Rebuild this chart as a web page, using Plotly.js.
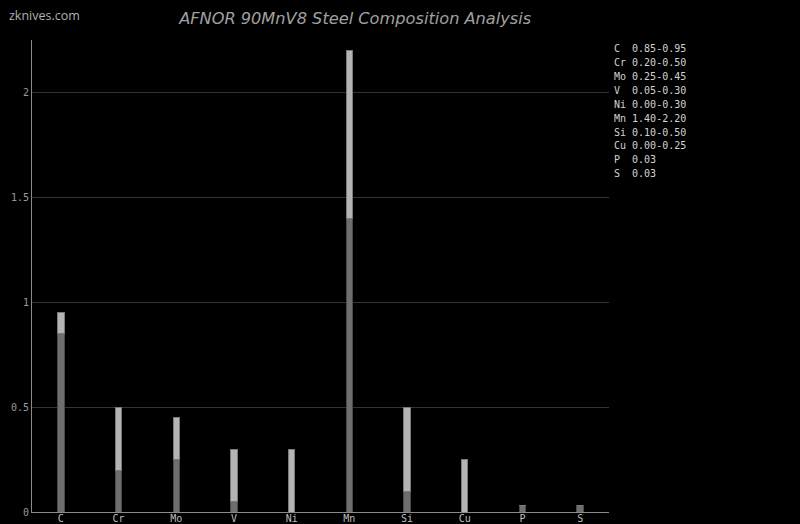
<!DOCTYPE html>
<html><head><meta charset="utf-8">
<script src="https://cdn.plot.ly/plotly-3.0.1.min.js"></script>
<style>html,body{margin:0;padding:0;background:#000;}#chart{width:800px;height:524px;}</style>
</head><body><div id="chart"></div>
<script>
const elements = ["C","Cr","Mo","V","Ni","Mn","Si","Cu","P","S"];
const minVals = [0.85,0.20,0.25,0.05,0.00,1.40,0.10,0.00,0.03,0.03];
const maxVals = [0.95,0.50,0.45,0.30,0.30,2.20,0.50,0.25,0.03,0.03];
const rangeLabels = ["0.85-0.95","0.20-0.50","0.25-0.45","0.05-0.30","0.00-0.30","1.40-2.20","0.10-0.50","0.00-0.25","0.03","0.03"];

const spanVals = maxVals.map((v,i)=>+(v-minVals[i]).toFixed(2));
const mono = "DejaVu Sans Mono, monospace";

const traces = [
  {type:"bar", x:elements, y:minVals, width:0.11,
   marker:{color:"#6e6e6e", line:{color:"#4a4a4a", width:1}}, hoverinfo:"skip", showlegend:false},
  {type:"bar", x:elements, y:spanVals, width:0.11,
   marker:{color:"#b4b4b4", line:{color:"#7a7a7a", width:1}}, hoverinfo:"skip", showlegend:false}
];

const plotH = 472;
const legendAnns = elements.map((e,i)=>({
  text: e + (e.length<2?"&nbsp;&nbsp;":"&nbsp;") + rangeLabels[i],
  xref:"paper", yref:"paper", x:1, xshift:3, y:1-(8.6+13.9*i)/plotH, xanchor:"left", yanchor:"middle",
  align:"left", showarrow:false, font:{family:mono, size:10, color:"#d2d2d2"}
}));

const layout = {
  width:800, height:524,
  paper_bgcolor:"#000", plot_bgcolor:"#000",
  barmode:"stack",
  margin:{l:32, r:191, t:40, b:12},
  title:{text:"AFNOR 90MnV8 Steel Composition Analysis", x:0.444, xanchor:"center", y:0.965, yanchor:"middle",
         font:{family:"DejaVu Sans, sans-serif", size:16.2, color:"#a0a0a0", style:"italic"}},
  xaxis:{showgrid:false, showline:true, linecolor:"#8a8a8a", linewidth:1, ticks:"", ticklen:0, ticklabelstandoff:-3,
         tickfont:{family:mono, size:10, color:"#bdbdbd"}, fixedrange:true},
  yaxis:{range:[0,2.248], showline:true, linecolor:"#8a8a8a", linewidth:1, gridcolor:"#333333", gridwidth:1,
         zeroline:false, tickvals:[0,0.5,1,1.5,2], ticktext:["0","0.5","1","1.5","2"], ticks:"",
         tickfont:{family:mono, size:10, color:"#9a9a9a"}, fixedrange:true},
  annotations:[
    {text:"zknives.com", xref:"paper", yref:"paper", x:-32/577, y:1+24/472, xanchor:"left", yanchor:"middle",
     showarrow:false, xshift:7, font:{family:"Open Sans, sans-serif", size:12.5, color:"#b0b0b0"}}
  ].concat(legendAnns)
};
Plotly.newPlot("chart", traces, layout, {displayModeBar:false, staticPlot:true});
</script></body></html>
